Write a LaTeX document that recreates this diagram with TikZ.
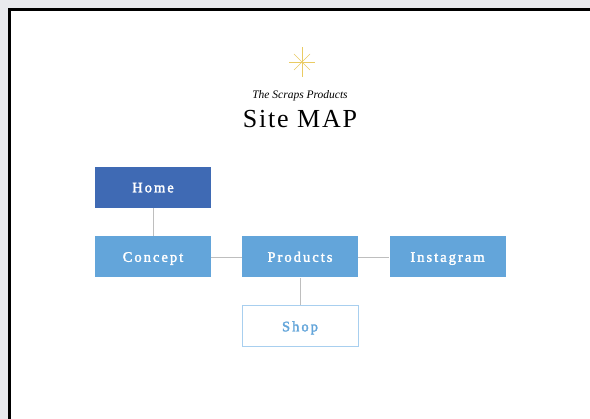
\documentclass[tikz,border=0pt]{standalone}
\usepackage{fontspec}
\setmainfont{Liberation Serif}
\newfontfamily\boxfont[LetterSpace=14,FakeBold=2]{Liberation Serif}
\newfontfamily\titlefont[LetterSpace=7]{Liberation Serif}
\definecolor{margingray}{HTML}{E9EAEE}
\definecolor{darkblue}{HTML}{3F6AB4}
\definecolor{lightblue}{HTML}{63A5DA}
\definecolor{shopborder}{HTML}{A8CFEF}
\definecolor{linegray}{HTML}{BEBEBE}
\definecolor{gold}{HTML}{EACB62}
\tikzset{
  pagebox/.style={minimum width=116pt, minimum height=41pt, inner sep=0pt, text height=9.6pt, text depth=0pt, font=\boxfont\fontsize{14.5}{16}\selectfont},
  homebox/.style={pagebox, fill=darkblue, text=white},
  mainbox/.style={pagebox, fill=lightblue, text=white},
  subbox/.style={pagebox, fill=white, draw=shopborder, line width=1pt, text=lightblue},
  link/.style={draw=linegray, line width=0.8pt},
  ray/.style={gold, line width=0.6pt}
}
\begin{document}
\begin{tikzpicture}[x=1pt,y=-1pt]
\useasboundingbox (0,0) rectangle (590,419);
\fill[margingray] (0,0) rectangle (590,419);
\fill[white] (9.5,9.5) rectangle (600,430);
\begin{scope}
\clip (0,0) rectangle (590,419);
\draw[black, line width=3pt] (9.5,430) -- (9.5,9.5) -- (600,9.5);
\end{scope}
% star
\coordinate (star) at (302,62);
\draw[ray] ([yshift=-15]star) -- ([yshift=15]star);
\draw[ray] ([xshift=-13]star) -- ([xshift=13]star);
\draw[ray] ([shift={(-8,-8)}]star) -- ([shift={(8,8)}]star);
\draw[ray] ([shift={(-8,8)}]star) -- ([shift={(8,-8)}]star);
% titles
\node[font=\itshape\fontsize{11.5}{13}\selectfont, inner sep=0pt, anchor=base] (sub) at (300,99) {The Scraps Products};
\node[font=\titlefont\fontsize{26}{28}\selectfont, inner sep=0pt, anchor=base] (title) at (300,128) {Site MAP};
% boxes
\node[homebox] (home) at (153,187.5) {Home};
\node[mainbox] (concept) at (153,257) {Concept};
\node[mainbox] (products) at (300,257) {Products};
\node[mainbox] (instagram) at (447.5,257) {Instagram};
\node[subbox] (shop) at (300,326.5) {Shop};
% links
\draw[link] (home) -- (concept);
\draw[link] (concept) -- (products);
\draw[link] (products) -- (instagram);
\draw[link] (products) -- (shop);
\end{tikzpicture}
\end{document}
